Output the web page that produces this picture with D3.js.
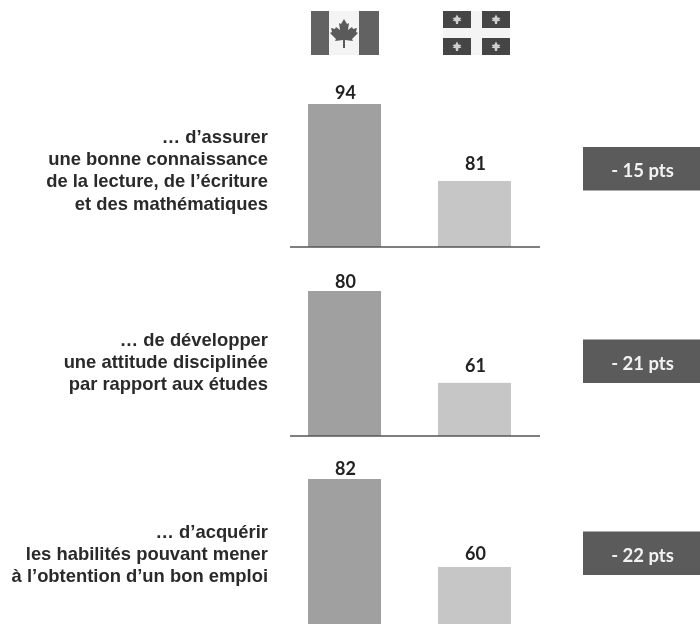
<!DOCTYPE html>
<html><head><meta charset="utf-8">
<script src="https://cdn.jsdelivr.net/npm/d3@7"></script>
<style>html,body{margin:0;padding:0;background:#fff}svg{display:block;filter:blur(0.45px)}</style>
</head><body><div id="c"></div>
<script>
const groups = ["Canada", "Québec"];
const canadaValues = [94, 80, 82];
const quebecValues = [81, 61, 60];
const gapLabels = ["- 15 pts", "- 21 pts", "- 22 pts"];
const questionLines = [
  ["… d’assurer", "une bonne connaissance", "de la lecture, de l’écriture", "et des mathématiques"],
  ["… de développer", "une attitude disciplinée", "par rapport aux études"],
  ["… d’acquérir", "les habilités pouvant mener", "à l’obtention d’un bon emploi"]
];
// The source bars are not on a common scale: each panel has its own truncated base value.
const panelBaseValues = [69.85, 50, 45.75];
const panelBaselines = [247, 436, 624];
const panelTops = [104, 291, 479];
const labelFirstBaseline = [143, 346, 538];
const boxTops = [147, 339.5, 531.5];
const canadaLabelGaps = [5, 3.5, 4];
const quebecLabelGaps = [11, 11, 7];

const svg = d3.select("#c").append("svg").attr("width",700).attr("height",624);
const x = d3.scaleBand().domain(groups).range([308,511]).paddingInner(0.438).paddingOuter(0);
const fills = {"Canada":"#a0a0a0","Québec":"#c6c6c6"};

canadaValues.forEach((cv,i)=>{
  const y = d3.scaleLinear().domain([panelBaseValues[i],cv]).range([panelBaselines[i],panelTops[i]]);
  const g = svg.append("g");
  const rows = [{k:"Canada",v:cv,gap:canadaLabelGaps[i]},{k:"Québec",v:quebecValues[i],gap:quebecLabelGaps[i]}];
  g.selectAll("rect").data(rows).join("rect")
    .attr("x",d=>x(d.k)).attr("width",x.bandwidth())
    .attr("y",d=>y(d.v)).attr("height",d=>y.range()[0]-y(d.v))
    .attr("fill",d=>fills[d.k]);
  g.selectAll("text").data(rows).join("text")
    .attr("x",d=>x(d.k)+x.bandwidth()/2+1).attr("y",d=>y(d.v)-d.gap)
    .attr("text-anchor","middle")
    .attr("font-family","Lato").attr("font-weight",700).attr("font-size",18)
    .attr("fill","#222").text(d=>d.v);
  if(i<2) g.append("line").attr("x1",290).attr("x2",540)
    .attr("y1",panelBaselines[i]).attr("y2",panelBaselines[i])
    .attr("stroke","#555").attr("stroke-width",1.4);
  svg.append("g").selectAll("text").data(questionLines[i]).join("text")
    .attr("x",268).attr("y",(d,j)=>labelFirstBaseline[i]+j*22.2)
    .attr("text-anchor","end")
    .attr("font-family","Liberation Sans").attr("font-weight",700).attr("font-size",18.4)
    .attr("fill","#2a2a2a").text(d=>d);
  svg.append("rect").attr("x",583).attr("y",boxTops[i]).attr("width",117).attr("height",43.5).attr("fill","#5b5b5b");
  svg.append("text").attr("x",642.5).attr("y",boxTops[i]+30)
    .attr("text-anchor","middle").attr("font-family","Lato").attr("font-weight",700).attr("font-size",18.5)
    .attr("fill","#f2f2f2").text(gapLabels[i]);
});

// Flags
const ca = svg.append("g");
ca.append("rect").attr("x",311).attr("y",11).attr("width",68).attr("height",44).attr("fill","#f4f4f4");
ca.append("rect").attr("x",311).attr("y",11).attr("width",18).attr("height",44).attr("fill","#626262");
ca.append("rect").attr("x",359).attr("y",11).attr("width",20).attr("height",44).attr("fill","#626262");
ca.append("path").attr("transform","translate(344,33)")
  .attr("d","M0,-14 L3,-9 L5,-10 L4,-3 L8,-6 L9,-4 L13,-5 L12,-1 L14,0 L8,6 L9,8 L1,7 L1,15 L-1,15 L-1,7 L-9,8 L-8,6 L-14,0 L-12,-1 L-13,-5 L-9,-4 L-8,-6 L-4,-3 L-5,-10 L-3,-9 Z")
  .attr("fill","#5a5a5a");
const qc = svg.append("g");
qc.append("rect").attr("x",443).attr("y",11).attr("width",67).attr("height",44).attr("fill","#f4f4f4");
[[443,11],[482,11],[443,38],[482,38]].forEach(([a,b])=>{
  qc.append("rect").attr("x",a).attr("y",b).attr("width",28).attr("height",17).attr("fill","#454545");
  qc.append("path").attr("transform",`translate(${a+14},${b+8.5})`)
    .attr("d","M0,-5 L1.6,-2 L4.5,-1.5 L3,0 L4.5,1.5 L1.5,1.5 L1,4.5 L-1,4.5 L-1.5,1.5 L-4.5,1.5 L-3,0 L-4.5,-1.5 L-1.6,-2 Z")
    .attr("fill","#cfcfcf");
});
</script></body></html>
